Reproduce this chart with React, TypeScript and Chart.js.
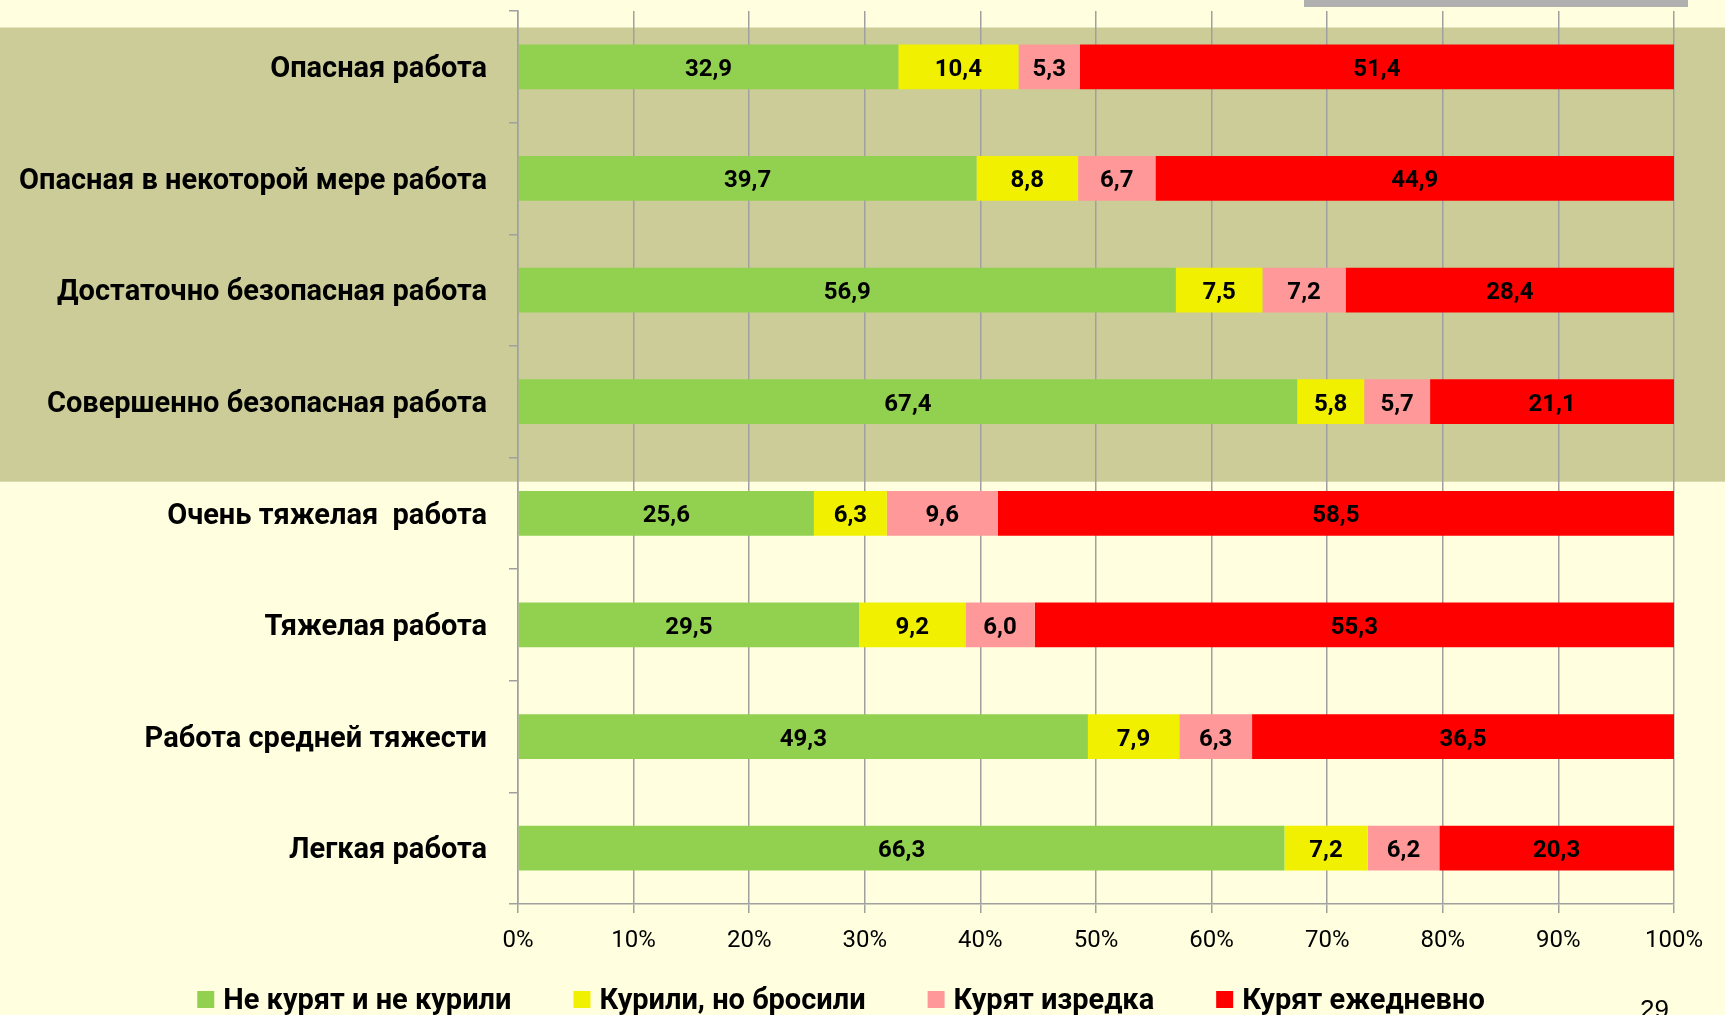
import React, { useEffect, useRef } from "react";
import { Chart, registerables } from "chart.js";

Chart.register(...registerables);

// ---- Data ----
const categories = [
  "Опасная работа",
  "Опасная в некоторой мере работа",
  "Достаточно безопасная работа",
  "Совершенно безопасная работа",
  "Очень тяжелая  работа",
  "Тяжелая работа",
  "Работа средней тяжести",
  "Легкая работа",
];
const seriesNames = [
  "Не курят и не курили",
  "Курили, но бросили",
  "Курят изредка",
  "Курят ежедневно",
];
const neverSmoked = [32.9, 39.7, 56.9, 67.4, 25.6, 29.5, 49.3, 66.3];
const quitSmoking = [10.4, 8.8, 7.5, 5.8, 6.3, 9.2, 7.9, 7.2];
const occasionally = [5.3, 6.7, 7.2, 5.7, 9.6, 6.0, 6.3, 6.2];
const daily = [51.4, 44.9, 28.4, 21.1, 58.5, 55.3, 36.5, 20.3];
const xTickValues = [0, 10, 20, 30, 40, 50, 60, 70, 80, 90, 100];
const pageNumber = "29";

// ---- Styles ----
const seriesColors = ["#92D050", "#F0F000", "#FF9999", "#FF0000"];
const PAGE_BG = "#FFFFE0";
const BAND_BG = "#CCCC99";
const GRID = "#A0A0A0";
const FONT = "Roboto, 'Noto Sans', sans-serif";
const RIGHT_PAD = 51;

const seriesValues = [neverSmoked, quitSmoking, occasionally, daily];
const rowSums = categories.map((_, i) =>
  seriesValues.reduce((s, arr) => s + arr[i], 0)
);

const fmt = (v: number) => v.toFixed(1).replace(".", ",");

const backgroundPlugin = {
  id: "slideBackground",
  beforeDraw(chart: any) {
    const { ctx, width, height } = chart;
    const ys = chart.scales.y;
    ctx.save();
    ctx.fillStyle = PAGE_BG;
    ctx.fillRect(0, 0, width, height);
    const step = ys.getPixelForValue(1) - ys.getPixelForValue(0);
    const top = ys.getPixelForValue(0) - 0.352 * step;
    const bottom = ys.getPixelForValue(3) + 0.717 * step;
    ctx.fillStyle = BAND_BG;
    ctx.fillRect(0, top, width, bottom - top);
    // decorative gray strip at the top right of the slide
    ctx.fillStyle = "#B0B0B0";
    ctx.fillRect(1304, 0, 384, 7);
    ctx.restore();
  },
};

const labelsPlugin = {
  id: "segmentLabels",
  afterDatasetsDraw(chart: any) {
    const { ctx } = chart;
    ctx.save();
    ctx.font = `bold 24px ${FONT}`;
    ctx.fillStyle = "#000";
    ctx.textAlign = "center";
    ctx.textBaseline = "middle";
    chart.data.datasets.forEach((_: any, di: number) => {
      const meta = chart.getDatasetMeta(di);
      meta.data.forEach((el: any, i: number) => {
        const { x, base, y } = el.getProps(["x", "base", "y"], true);
        ctx.fillText(fmt(seriesValues[di][i]), (x + base) / 2, y + 3);
      });
    });
    ctx.restore();
  },
};

const legendPlugin = {
  id: "customLegend",
  afterDraw(chart: any) {
    const { ctx, width, chartArea } = chart;
    ctx.save();
    ctx.font = `bold 29px ${FONT}`;
    ctx.textBaseline = "middle";
    ctx.textAlign = "left";
    const box = 17;
    const boxGap = 9;
    const itemGap = 62;
    const widths = seriesNames.map((n) => ctx.measureText(n).width);
    const total =
      widths.reduce((s, w) => s + w + box + boxGap, 0) +
      itemGap * (seriesNames.length - 1);
    let x = (width - RIGHT_PAD) / 2 - total / 2 + 4;
    const cy = chartArea.bottom + 97;
    seriesNames.forEach((n, i) => {
      ctx.fillStyle = seriesColors[i];
      ctx.fillRect(x, cy - 10, box, box);
      ctx.fillStyle = "#000";
      ctx.fillText(n, x + box + boxGap, cy + 1);
      x += box + boxGap + widths[i] + itemGap;
    });
    // slide page number (cut at the bottom edge)
    ctx.font = `26px 'Liberation Sans', Arial, sans-serif`;
    ctx.textBaseline = "alphabetic";
    ctx.fillStyle = "#000";
    ctx.fillText(pageNumber, 1640, 1018);
    ctx.restore();
  },
};

export default function App() {
  const canvasRef = useRef<HTMLCanvasElement | null>(null);

  useEffect(() => {
    if (!canvasRef.current) return;
    const chart = new Chart(canvasRef.current, {
      type: "bar",
      data: {
        labels: categories,
        datasets: seriesNames.map((name, di) => ({
          label: name,
          data: seriesValues[di].map((v, i) => (v / rowSums[i]) * 100),
          backgroundColor: seriesColors[di],
          borderWidth: 0,
          barPercentage: 0.4,
          categoryPercentage: 1,
        })),
      },
      options: {
        indexAxis: "y",
        animation: false,
        responsive: true,
        maintainAspectRatio: false,
        layout: { padding: { top: 11, right: RIGHT_PAD, left: 0, bottom: 0 } },
        plugins: {
          legend: { display: false },
          tooltip: { enabled: false },
        },
        scales: {
          x: {
            stacked: true,
            min: 0,
            max: 100,
            afterBuildTicks: (scale: any) => {
              scale.ticks = xTickValues.map((v) => ({ value: v }));
            },
            afterFit: (scale: any) => {
              scale.height = 111;
              scale.paddingLeft = 0;
              scale.paddingRight = 0;
            },
            ticks: {
              callback: (v: any) => `${v}%`,
              font: { family: FONT, size: 24 },
              color: "#000",
              padding: 14,
              maxRotation: 0,
            },
            grid: {
              color: GRID,
              lineWidth: 1.5,
              tickLength: 9,
              drawOnChartArea: true,
            },
            border: { display: true, color: GRID, width: 1.5 },
          },
          y: {
            stacked: true,
            afterFit: (scale: any) => {
              scale.width = 518;
              scale.paddingTop = 0;
              scale.paddingBottom = 0;
            },
            ticks: {
              font: { family: FONT, size: 29, weight: "bold" },
              color: "#000",
              padding: 22,
              labelOffset: 3,
            },
            grid: {
              drawOnChartArea: false,
              color: GRID,
              lineWidth: 1.5,
              tickLength: 9,
              offset: true,
            },
            border: { display: true, color: GRID, width: 1.5 },
          },
        },
      },
      plugins: [backgroundPlugin, labelsPlugin, legendPlugin],
    });
    return () => chart.destroy();
  }, []);

  return (
    <div
      style={{
        position: "absolute",
        left: 0,
        top: 0,
        width: 1725,
        height: 1015,
        overflow: "hidden",
      }}
    >
      <canvas ref={canvasRef} />
    </div>
  );
}
